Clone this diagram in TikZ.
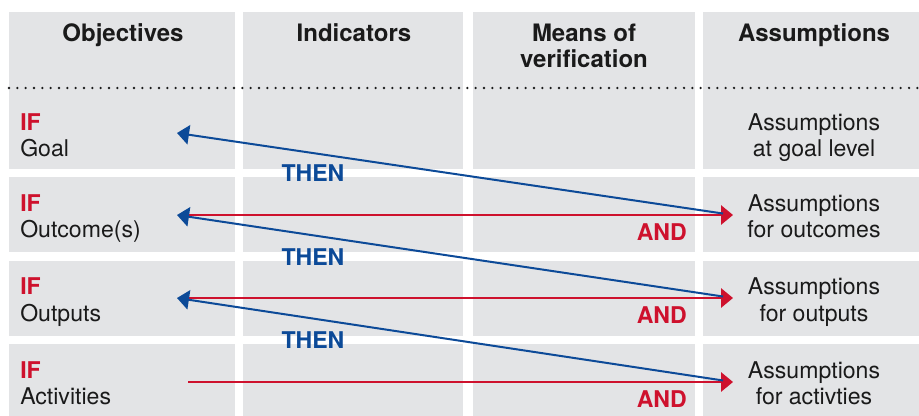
\documentclass[tikz,border=0pt]{standalone}
\usepackage{fontspec}
\setmainfont{TeX Gyre Heros}
\usetikzlibrary{arrows.meta}
\definecolor{cellgrey}{RGB}{227,228,230}
\definecolor{ifred}{RGB}{206,17,45}
\definecolor{thenblue}{RGB}{12,74,152}
\definecolor{inkblack}{RGB}{26,26,26}
\begin{document}
\begin{tikzpicture}[x=0.75pt,y=-0.75pt,
  cell/.style={fill=cellgrey,draw=none},
  headtxt/.style={font=\fontsize{18}{20}\selectfont\bfseries,text=inkblack,inner sep=0pt,anchor=base},
  iftxt/.style={font=\fontsize{17.3}{20}\selectfont\bfseries,text=ifred,inner sep=0pt,anchor=base west},
  objtxt/.style={font=\fontsize{17.3}{20}\selectfont,text=inkblack,inner sep=0pt,anchor=base west},
  asmtxt/.style={font=\fontsize{17.3}{20}\selectfont,text=inkblack,inner sep=0pt,anchor=base},
  thentxt/.style={font=\fontsize{17.3}{20}\selectfont\bfseries,text=thenblue,inner sep=0pt,anchor=base},
  andtxt/.style={font=\fontsize{17.3}{20}\selectfont\bfseries,text=ifred,inner sep=0pt,anchor=base east},
  andline/.style={draw=ifred,line width=1.5pt,-{Triangle[length=9pt,width=14.5pt]}},
  thenline/.style={draw=thenblue,line width=1.5pt,-{Triangle[length=9pt,width=14.5pt]}},
  dotrule/.style={draw=inkblack,line width=1.9pt,line cap=round,dash pattern=on 0pt off 6.25pt}
]
\useasboundingbox (0,0) rectangle (919,416);

% grey cells of the logframe grid
\foreach \xa/\xb in {9/235,243/463,473/695,703/919}{
  \fill[cell] (\xa,12) rectangle (\xb,169);
  \fill[cell] (\xa,177) rectangle (\xb,252);
  \fill[cell] (\xa,261) rectangle (\xb,336);
  \fill[cell] (\xa,344) rectangle (\xb,416);
}

% rule under the header
\draw[dotrule] (9,88) -- (919,88);

% column headings
\node[headtxt] (hobj) at (123,42) {Objectives};
\node[headtxt] (hind) at (354,42) {Indicators};
\node[headtxt] (hmov1) at (584,42) {Means of};
\node[headtxt] (hmov2) at (584,68) {verification};
\node[headtxt] (hasm) at (814,42) {Assumptions};

% objectives column
\node[iftxt] (if1) at (20,131) {IF};
\node[objtxt] (goal) at (20,157) {Goal};
\node[iftxt] (if2) at (20,212) {IF};
\node[objtxt] (outc) at (20,238) {Outcome(s)};
\node[iftxt] (if3) at (20,294) {IF};
\node[objtxt] (outp) at (20,321) {Outputs};
\node[iftxt] (if4) at (20,378) {IF};
\node[objtxt] (actv) at (20,404) {Activities};

% assumptions column
\node[asmtxt] (a1) at (814,131) {Assumptions};
\node[asmtxt] (a1b) at (814,157) {at goal level};
\node[asmtxt] (a2) at (814,212) {Assumptions};
\node[asmtxt] (a2b) at (814,238) {for outcomes};
\node[asmtxt] (a3) at (814,294) {Assumptions};
\node[asmtxt] (a3b) at (814,321) {for outputs};
\node[asmtxt] (a4) at (814,378) {Assumptions};
\node[asmtxt] (a4b) at (814,404) {for activties};

% arrow end points
\coordinate (L1) at (177,133);
\coordinate (L2) at (177,215);
\coordinate (L3) at (177,298);
\coordinate (L4) at (177,382);
\coordinate (R2) at (733,215);
\coordinate (R3) at (733,298);
\coordinate (R4) at (733,382);

% AND links (objective -> assumption)
\draw[andline] ([xshift=8.25pt]L2) -- (R2);
\draw[andline] ([xshift=8.25pt]L3) -- (R3);
\draw[andline] ([xshift=8.25pt]L4) -- (R4);

% THEN links (assumption -> higher objective)
\draw[thenline,shorten <=7.5pt] (R2) -- (L1);
\draw[thenline,shorten <=7.5pt] (R3) -- (L2);
\draw[thenline,shorten <=7.5pt] (R4) -- (L3);

% link labels
\node[thentxt] (then1) at (313,182) {THEN};
\node[thentxt] (then2) at (313,266) {THEN};
\node[thentxt] (then3) at (313,348) {THEN};
\node[andtxt] (and1) at (687,241) {AND};
\node[andtxt] (and2) at (687,323) {AND};
\node[andtxt] (and3) at (687,407) {AND};
\end{tikzpicture}
\end{document}
